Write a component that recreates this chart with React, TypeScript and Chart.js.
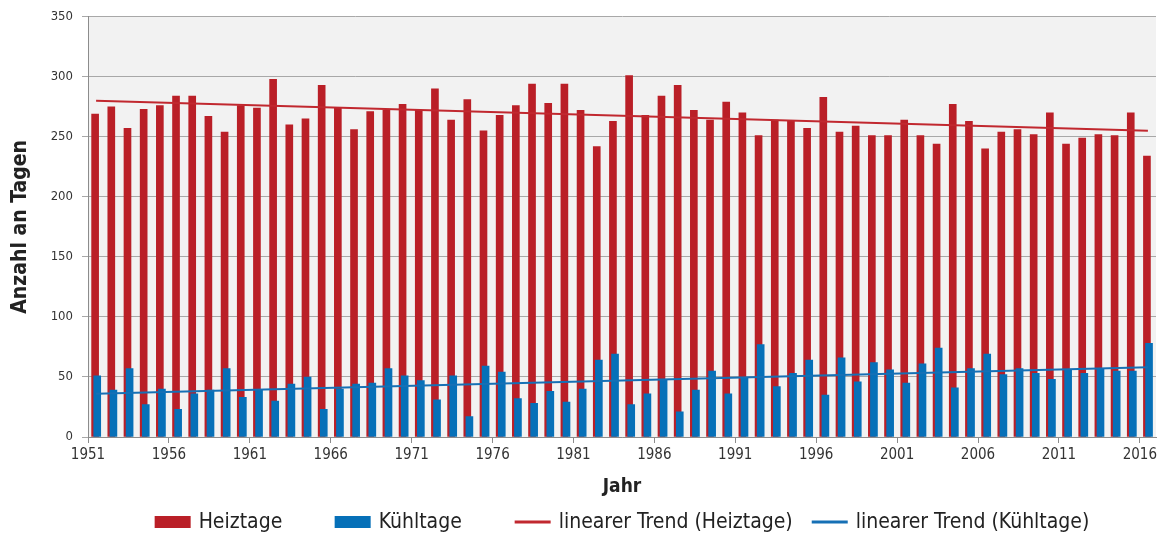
import React, { useEffect, useRef } from 'react';
import { Chart, registerables } from 'chart.js';

Chart.register(...registerables);

const years = [
  1951, 1952, 1953, 1954, 1955, 1956, 1957, 1958, 1959, 1960,
  1961, 1962, 1963, 1964, 1965, 1966, 1967, 1968, 1969, 1970,
  1971, 1972, 1973, 1974, 1975, 1976, 1977, 1978, 1979, 1980,
  1981, 1982, 1983, 1984, 1985, 1986, 1987, 1988, 1989, 1990,
  1991, 1992, 1993, 1994, 1995, 1996, 1997, 1998, 1999, 2000,
  2001, 2002, 2003, 2004, 2005, 2006, 2007, 2008, 2009, 2010,
  2011, 2012, 2013, 2014, 2015, 2016,
];

const heizTage = [
  269, 275, 257, 273, 276, 284, 284, 267, 254, 276,
  274, 298, 260, 265, 293, 274, 256, 271, 272, 277,
  272, 290, 264, 281, 255, 268, 276, 294, 278, 294,
  272, 242, 263, 301, 268, 284, 293, 272, 264, 279,
  270, 251, 264, 263, 257, 283, 254, 259, 251, 251,
  264, 251, 244, 277, 263, 240, 254, 256, 252, 270,
  244, 249, 252, 251, 270, 234,
];

const kuehlTage = [
  51, 39, 57, 27, 40, 23, 36, 39, 57, 33,
  39, 30, 44, 50, 23, 40, 44, 45, 57, 51,
  47, 31, 51, 17, 59, 54, 32, 28, 38, 29,
  40, 64, 69, 27, 36, 48, 21, 39, 55, 36,
  49, 77, 42, 53, 64, 35, 66, 46, 62, 56,
  45, 61, 74, 41, 57, 69, 52, 57, 53, 48,
  56, 53, 57, 55, 55, 78,
];

const trendYears = [1951, 2016];
const heizTrend = [280, 255];
const kuehlTrend = [36, 58];

const tickYears = [1951, 1956, 1961, 1966, 1971, 1976, 1981, 1986, 1991, 1996, 2001, 2006, 2011, 2016];
const yTicks = [0, 50, 100, 150, 200, 250, 300, 350];

const RED = '#ba1f27';
const BLUE = '#0670b8';
const RED_LINE = '#c1282f';
const BLUE_LINE = '#1670b5';
const FONT = '"Liberation Sans Narrow", "DejaVu Sans Condensed", "Open Sans", sans-serif';

export default function App() {
  const ref = useRef<HTMLCanvasElement>(null);

  useEffect(() => {
    document.body.style.margin = '0';
    const bgPlugin = {
      id: 'plotBg',
      beforeDraw(chart: any) {
        const { ctx, chartArea: a } = chart;
        ctx.save();
        ctx.fillStyle = '#f2f2f2';
        ctx.fillRect(a.left, a.top, a.right - a.left, a.bottom - a.top);
        ctx.restore();
      },
    };
    const legendPlugin = {
      id: 'customLegend',
      afterDraw(chart: any) {
        const { ctx, chartArea: a } = chart;
        const ds = chart.data.datasets;
        ctx.save();
        ctx.font = `21px ${FONT}`;
        ctx.textBaseline = 'middle';
        const sym = 36;
        const gap = 8;
        const widths = ds.map((d: any) => sym + gap + ctx.measureText(d.label).width);
        const adv = widths.map((w: number) => Math.max(180, w + 19));
        let total = 0;
        for (let i = 0; i < widths.length; i++) total += i === widths.length - 1 ? widths[i] : adv[i];
        let x = (a.left + a.right) / 2 - total / 2;
        const y = 522;
        ds.forEach((d: any, i: number) => {
          if (d.type === 'line') {
            ctx.fillStyle = d.borderColor;
            ctx.fillRect(x, y - 1.5, sym, 3);
          } else {
            ctx.fillStyle = d.backgroundColor;
            ctx.fillRect(x, y - 6, sym, 12);
          }
          ctx.fillStyle = '#222';
          ctx.fillText(d.label, x + sym + gap, y + 1);
          x += adv[i];
        });
        ctx.restore();
      },
    };

    const chart = new Chart(ref.current as HTMLCanvasElement, {
      type: 'bar',
      data: {
        datasets: [
          {
            type: 'bar',
            label: 'Heiztage',
            data: years.map((yr, i) => ({ x: yr + 0.44, y: heizTage[i] })),
            backgroundColor: RED,
            barThickness: 7,
            grouped: false,
            order: 3,
          } as any,
          {
            type: 'bar',
            label: 'Kühltage',
            data: years.map((yr, i) => ({ x: yr + 0.57, y: kuehlTage[i] })),
            backgroundColor: BLUE,
            barThickness: 7,
            grouped: false,
            order: 2,
          } as any,
          {
            type: 'line',
            label: 'linearer Trend (Heiztage)',
            data: trendYears.map((yr, i) => ({ x: yr + 0.5, y: heizTrend[i] })),
            borderColor: RED_LINE,
            borderWidth: 2,
            pointRadius: 0,
            order: 1,
          } as any,
          {
            type: 'line',
            label: 'linearer Trend (Kühltage)',
            data: trendYears.map((yr, i) => ({ x: yr + 0.5, y: kuehlTrend[i] })),
            borderColor: BLUE_LINE,
            borderWidth: 2,
            pointRadius: 0,
            order: 0,
          } as any,
        ],
      },
      options: {
        animation: false,
        responsive: false,
        maintainAspectRatio: false,
        layout: { padding: { top: 16, right: 6, left: 0, bottom: 0 } },
        plugins: { legend: { display: false }, tooltip: { enabled: false } },
        scales: {
          x: {
            type: 'linear',
            min: 1951,
            max: 2017,
            offset: false,
            afterBuildTicks: (s: any) => {
              s.ticks = tickYears.map((v) => ({ value: v }));
            },
            afterFit: (s: any) => {
              s.height = 98;
            },
            grid: { offset: false, drawOnChartArea: false, drawTicks: true, tickLength: 6, color: '#8c8c8c' },
            border: { color: '#8c8c8c' },
            ticks: {
              callback: (v: any) => String(v),
              font: { size: 15, family: FONT },
              color: '#333',
              padding: 3,
              maxRotation: 0,
              autoSkip: false,
            },
            title: {
              display: true,
              text: 'Jahr',
              font: { size: 19, weight: 'bold', family: FONT },
              color: '#222',
              padding: { top: 0, bottom: 37 },
            },
          },
          y: {
            type: 'linear',
            min: 0,
            max: 350,
            afterBuildTicks: (s: any) => {
              s.ticks = yTicks.map((v) => ({ value: v }));
            },
            afterFit: (s: any) => {
              s.width = 88;
            },
            grid: { color: '#a8a8a8', tickLength: 6 },
            border: { color: '#8c8c8c' },
            ticks: {
              font: { size: 13, family: FONT },
              color: '#333',
              padding: 9,
            },
            title: {
              display: true,
              text: 'Anzahl an Tagen',
              font: { size: 21, weight: 'bold', family: FONT },
              color: '#222',
              padding: { top: 8, bottom: 0 },
            },
          },
        },
      } as any,
      plugins: [bgPlugin, legendPlugin],
    });
    return () => chart.destroy();
  }, []);

  return (
    <div style={{ position: 'absolute', left: 0, top: 0, width: 1162, height: 535 }}>
      <canvas ref={ref} width={1162} height={535} style={{ display: 'block' }} />
    </div>
  );
}
